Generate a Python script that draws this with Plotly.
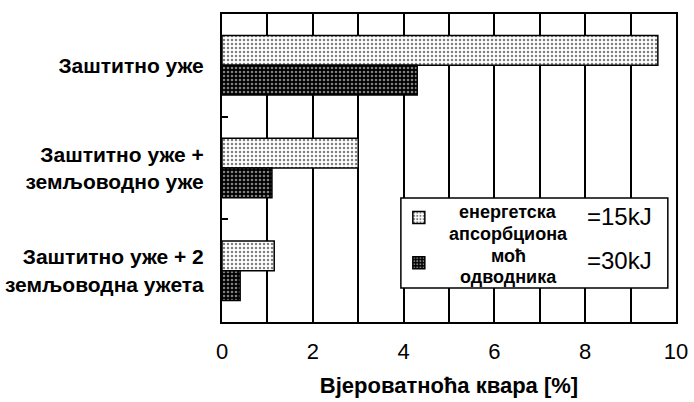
import plotly.graph_objects as go

categories = ["Заштитно уже", "Заштитно уже +<br>земљоводно уже", "Заштитно уже + 2<br>земљоводна ужета"]
values_15kJ = [9.6, 3.0, 1.15]
values_30kJ = [4.3, 1.1, 0.4]
series_names = ["=15kJ", "=30kJ"]
legend_desc_lines = ["енергетска", "апсорбциона", "моћ", "одводника"]
x_title = "Вјероватноћа квара [%]"

FONT = "Liberation Sans, Arial, sans-serif"

fig = go.Figure()
fig.add_trace(go.Bar(
    y=categories, x=values_15kJ, orientation="h", name=" ",
    marker=dict(color="white", line=dict(color="black", width=1.5),
                pattern=dict(shape=".", fgcolor="black", bgcolor="white", size=4, solidity=0.3)),
    legendgroup="a",
))
fig.add_trace(go.Bar(
    y=categories, x=values_30kJ, orientation="h", name=" ",
    marker=dict(color="black", line=dict(color="black", width=1.5),
                pattern=dict(shape=".", fgcolor="white", bgcolor="black", size=4, solidity=0.35)),
    legendgroup="b",
))

desc_y = [212, 234, 256, 277]
annotations = [
    dict(text="<b>" + t + "</b>", xref="paper", yref="paper",
         x=0.630, y=(322 - py) / 308, showarrow=False, font=dict(size=18, family=FONT),
         xanchor="center", yanchor="middle")
    for t, py in zip(legend_desc_lines, desc_y)
]
annotations += [
    dict(text=series_names[0], xref="paper", yref="paper", x=0.8755, y=0.341,
         showarrow=False, font=dict(size=24, family=FONT), xanchor="center", yanchor="middle"),
    dict(text=series_names[1], xref="paper", yref="paper", x=0.8755, y=0.201,
         showarrow=False, font=dict(size=24, family=FONT), xanchor="center", yanchor="middle"),
]

fig.update_layout(
    width=694, height=402,
    margin=dict(l=222, r=18, t=14, b=80),
    paper_bgcolor="white", plot_bgcolor="white",
    barmode="group", bargap=0.42, bargroupgap=0,
    font=dict(family=FONT, color="black"),
    showlegend=True,
    legend=dict(x=0.3895, xanchor="left", y=0.39, yanchor="top",
                bgcolor="rgba(0,0,0,0)", borderwidth=0,
                font=dict(size=14), tracegroupgap=24, traceorder="grouped",
                itemclick=False, itemdoubleclick=False),
    shapes=[dict(type="rect", xref="paper", yref="paper",
                 x0=0.394, x1=0.982, y0=0.110, y1=0.403,
                 fillcolor="white", line=dict(color="black", width=1.5), layer="above")],
    annotations=annotations,
)

fig.update_xaxes(
    range=[0, 10], dtick=2, tick0=0, automargin=False,
    showgrid=True, gridcolor="black", gridwidth=1.8,
    minor=dict(dtick=1, showgrid=True, gridcolor="black", gridwidth=1.8),
    showline=True, linecolor="black", linewidth=2, mirror=True,
    ticks="", tickfont=dict(size=22, family=FONT), ticklabelstandoff=9,
    zeroline=False,
    title=dict(text="<b>" + x_title + "</b>", font=dict(size=22, family=FONT), standoff=14),
)
fig.update_yaxes(
    type="category", autorange="reversed", automargin=False,
    showgrid=False, showline=True, linecolor="black", linewidth=2, mirror=True,
    ticks="inside", tickson="boundaries", ticklen=6, tickcolor="black", tickwidth=1.5,
    tickfont=dict(size=21, family=FONT), ticklabelstandoff=12,
)
fig.update_yaxes(tickvals=categories, ticktext=["<b>" + c.replace("<br>", "</b><br><b>") + "</b>" for c in categories])

fig.write_html("out.html", config={"displayModeBar": False})

# remove default page margin so the figure sits at the window's top-left corner
with open("out.html", "r", encoding="utf-8") as f:
    html = f.read()
html = html.replace("<head>", "<head><style>html,body{margin:0;padding:0;overflow:hidden;}</style>", 1)
with open("out.html", "w", encoding="utf-8") as f:
    f.write(html)
